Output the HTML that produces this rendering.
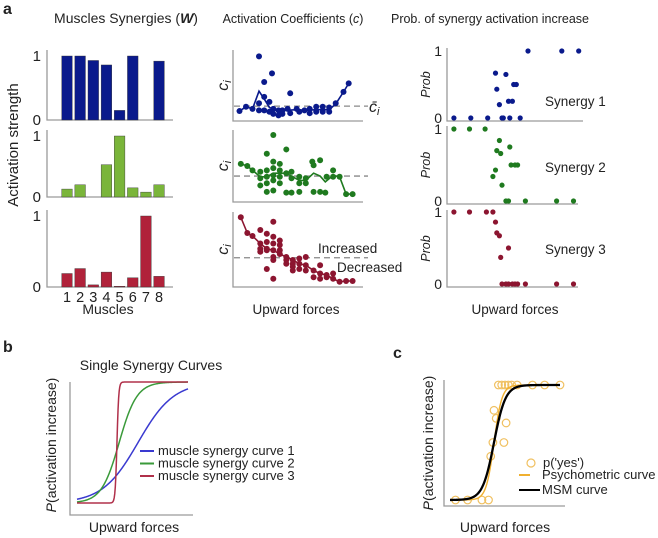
<!DOCTYPE html>
<html><head><meta charset="utf-8"><style>
body{margin:0;background:#fff}
svg{display:block;font-family:"Liberation Sans",Arial,sans-serif}
</style></head><body>
<svg id="fig" width="658" height="538" viewBox="0 0 658 538">
<g id="static" font-size="13" fill="#222">
<text x="3" y="14" font-weight="bold" font-size="16">a</text>
<text x="126" y="23" text-anchor="middle" font-size="14">Muscles Synergies (<tspan font-weight="bold" font-style="italic">W</tspan>)</text>
<text x="293" y="23" text-anchor="middle" font-size="12.5">Activation  Coefficients (<tspan font-style="italic">c</tspan>)</text>
<text x="490" y="23" text-anchor="middle" font-size="12.5">Prob. of synergy  activation increase</text>
<text transform="translate(18,145) rotate(-90)" text-anchor="middle" font-size="15">Activation strength</text>
<text x="108" y="314" text-anchor="middle" font-size="14">Muscles</text>
<text x="296" y="314" text-anchor="middle" font-size="13.5">Upward forces</text>
<text x="515" y="314" text-anchor="middle" font-size="13.5">Upward forces</text>
<text x="3" y="352" font-weight="bold" font-size="16">b</text>
<text x="151" y="370" text-anchor="middle" font-size="14">Single Synergy  Curves</text>
<text transform="translate(56,445) rotate(-90)" text-anchor="middle" font-size="14"><tspan font-style="italic">P</tspan>(activation increase)</text>
<text x="134" y="532" text-anchor="middle" font-size="14">Upward forces</text>
<text x="393" y="358" font-weight="bold" font-size="16">c</text>
<text transform="translate(433,443) rotate(-90)" text-anchor="middle" font-size="14"><tspan font-style="italic">P</tspan>(activation increase)</text>
<text x="505" y="532" text-anchor="middle" font-size="14">Upward forces</text>
</g>
</svg>
<script>
const NS="http://www.w3.org/2000/svg";
const svg=document.getElementById('fig');
// ---- data: bars ----
const muscles=[1,2,3,4,5,6,7,8];
const barsSyn1=[1.0,1.0,0.93,0.86,0.15,1.0,0,0.92];
const barsSyn2=[0.13,0.2,0,0.53,1.0,0.15,0.08,0.2];
const barsSyn3=[0.19,0.26,0.03,0.21,0.01,0.13,1.0,0.15];
// ---- data: coefficients (x force 0-100, y 0-100) ----
const c1X=[5,10,15,20,20,20,24,24,24,30,28,28,31,31,35,35,38,38,44,42,44,49,51,55,59,59,64,64,69,69,74,74,79,85,89];
const c1Y=[14,20,17,91,25,15,55,34,15,67,27,13,17,10,15,8,15,10,39,17,11,17,13,15,17,11,20,13,20,13,19,13,25,41,53];
const c1LineX=[5,10,15,20,24,28,35,41,49,56,64,74,79,85,89];
const c1LineY=[14,20,17,42,31,19,14,15,16,15,16,16,24,41,53];
const c1Mean=21;
const c2X=[6,11,15,21,21,21,26,26,26,26,26,31,31,31,31,31,31,36,36,36,36,41,41,41,45,45,45,51,51,51,56,56,61,62,67,67,62,71,72,77,77,82,87,92];
const c2Y=[53,50,44,42,33,23,67,44,35,26,14,93,56,47,37,30,16,53,44,35,26,73,40,13,42,33,13,35,26,14,33,26,56,51,58,14,14,13,35,44,35,35,11,11];
const c2LineX=[6,11,15,21,26,31,36,41,46,51,56,62,67,71,77,82,87,92];
const c2LineY=[53,50,44,35,35,40,40,40,35,30,30,40,36,28,37,35,11,11];
const c2Mean=36;
const c3LineX=[6,11,15,21,26,31,36,41,46,51,56,62,67,72,77,82,87,92];
const c3LineY=[93,72,68,58,51,49,44,40,36,31,29,22,18,16,11,7,8,8];
const c3X=[21,21,21,26,26,26,26,31,31,31,31,31,31,36,36,36,41,41,46,46,46,51,51,56,56,62,67,67,72,77];
const c3Y=[76,51,47,71,60,49,24,87,67,58,40,36,11,62,56,49,36,31,31,27,22,38,24,40,22,13,29,11,13,18];
const c3Mean=39;
// ---- data: probabilities ----
const p1X=[3,16,29,40,41,46,54,60,86,99,35,43,36,38,45,48,49,51];
const p1Y=[0,0,0,0,0,0,0,1,1,1,0.67,0.65,0.43,0.2,0.25,0.25,0.5,0.5];
const p2X=[3,15,27,38,36,39,46,35,33,40,47,50,52,43,45,58,82,95];
const p2Y=[1,1,1,0.84,0.7,0.66,0.75,0.43,0.34,0.22,0.5,0.5,0.5,0,0,0,0,0];
const p3X=[3,15,28,33,35,36,38,45,39,40,43,45,48,50,52,58,82,95];
const p3Y=[1,1,1,1,0.86,0.71,0.67,0.5,0.37,0,0,0,0,0,0,0,0,0];
// ---- data: panel b curves ----
const curveNames=['muscle synergy curve 1','muscle synergy curve 2','muscle synergy curve 3'];
const curveCenters=[55,38,36];
const curveScales=[16,8,0.8];
// ---- data: panel c ----
const yesX=[5,16,29,35,44,47,50,53,56,61,75,86,100,40,42,51,39,49,37];
const yesY=[0,0,0,0,1,1,1,1,1,1,1,1,1,0.78,0.71,0.67,0.5,0.5,0.38];
const psyCenter=40, psyScale=3.6;
const msmCenter=40, msmScale=5.2;

const BLUE='#0a1a8c',GREEN='#1f7a1f',RED='#8c1530',LGREEN='#7ab53a',BRED='#b0223a',AX='#9a9a9a';
function el(tag,attrs,parent){const e=document.createElementNS(NS,tag);for(const k in attrs)e.setAttribute(k,attrs[k]);(parent||svg).appendChild(e);return e;}
function txt(x,y,s,opt){const t=el('text',Object.assign({x:x,y:y,'font-size':12.5,fill:'#222'},opt||{}));t.textContent=s;return t;}
function logistic(x,c,s){return 1/(1+Math.exp(-(x-c)/s));}

// ---- bar charts ----
const barPanels=[{v:barsSyn1,base:120,top:56,fill:BLUE,name:'synergy-1'},{v:barsSyn2,base:197,top:136,fill:LGREEN,name:'synergy-2'},{v:barsSyn3,base:287,top:216,fill:BRED,name:'synergy-3'}];
const bx=m=>67+(m-1)*13.15;
barPanels.forEach(p=>{
  const by=v=>p.base-v*(p.base-p.top);
  const ax=el('path',{d:`M47,${p.top-6}V${p.base}H173`,stroke:AX,fill:'none','stroke-width':1.3});
  
  
  [[1,'1'],[0,'0']].forEach(t=>{const e=txt(41,by(t[0])+5,t[1],{'text-anchor':'end','font-size':15});
    
    });
  p.v.forEach((v,i)=>{const y=by(v);
    const r=el('rect',{x:bx(muscles[i])-5.3,y:y,width:10.6,height:Math.max(0,p.base-y),fill:p.fill,stroke:'#333','stroke-width':0.4});
    
    });
});
muscles.forEach(m=>{const t=txt(bx(m),302,String(m),{'text-anchor':'middle','font-size':14.5});
  
  });

// ---- coefficient panels ----
const coefPanels=[
 {x:c1X,y:c1Y,lx:c1LineX,ly:c1LineY,m:c1Mean,top:50,bot:121,col:BLUE,name:'coef-synergy-1'},
 {x:c2X,y:c2Y,lx:c2LineX,ly:c2LineY,m:c2Mean,top:130,bot:202,col:GREEN,name:'coef-synergy-2'},
 {x:c3X.concat(c3LineX),y:c3Y.concat(c3LineY),lx:c3LineX,ly:c3LineY,m:c3Mean,top:212,bot:287,col:RED,name:'coef-synergy-3'}];
coefPanels.forEach((p,k)=>{
  const sx=v=>233+v*1.3, sy=v=>p.bot-v*(p.bot-p.top)/100;
  const ax=el('path',{d:`M233,${p.top}V${p.bot}H363`,stroke:AX,fill:'none','stroke-width':1.3});
  
  
  const d=el('line',{x1:234,x2:368,y1:sy(p.m),y2:sy(p.m),stroke:'#888','stroke-width':1.3,'stroke-dasharray':'6,4'});
  
  
  const lab=txt(226,(p.top+p.bot)/2+2,'c',{'font-style':'italic','font-size':16,transform:`rotate(-90 226 ${(p.top+p.bot)/2})`,'text-anchor':'middle'});
  lab.innerHTML='c<tspan font-size="11" dy="3">i</tspan>';
  
  
  const ln=el('polyline',{points:p.lx.map((v,i)=>sx(v)+','+sy(p.ly[i])).join(' '),fill:'none',stroke:p.col,'stroke-width':1.6});
  
  
  p.x.forEach((v,i)=>{const c=el('circle',{cx:sx(v),cy:sy(p.y[i]),r:3,fill:p.col});
    
    });
});
(function(){const t=txt(369,112,'c',{'font-style':'italic','font-size':16});t.innerHTML='c̄<tspan font-size="11" dy="3">i</tspan>';
 
 
 const a=txt(318,253,'Increased',{'font-size':13.5});
 const b=txt(337,272,'Decreased',{'font-size':13.5});})();

// ---- probability panels ----
const probPanels=[{x:p1X,y:p1Y,y1:51,y0:118,top:48,bot:121,col:BLUE,lab:'Synergy 1',ly:106,name:'prob-synergy-1'},
 {x:p2X,y:p2Y,y1:129,y0:201,top:126,bot:204,col:GREEN,lab:'Synergy 2',ly:172,name:'prob-synergy-2'},
 {x:p3X,y:p3Y,y1:212,y0:284,top:210,bot:287,col:RED,lab:'Synergy 3',ly:254,name:'prob-synergy-3'}];
probPanels.forEach((p,k)=>{
  const sx=v=>450+v*1.3, sy=v=>p.y0-v*(p.y0-p.y1);
  const ax=el('path',{d:`M447,${p.top}V${p.bot}H${k==0?583:578}`,stroke:AX,fill:'none','stroke-width':1.3});
  
  
  [[1,'1'],[0,'0']].forEach(t=>{const e=txt(442,sy(t[0])+5,t[1],{'text-anchor':'end','font-size':14});
    
    });
  const pl=txt(430,(p.top+p.bot)/2,'Prob',{'font-style':'italic','font-size':12.5,'text-anchor':'middle',transform:`rotate(-90 430 ${(p.top+p.bot)/2})`});
  
  
  const sl=txt(545,p.ly,p.lab,{'font-size':13.5});
  
  
  p.x.forEach((v,i)=>{const c=el('circle',{cx:sx(v),cy:sy(p.y[i]),r:2.6,fill:p.col});
    
    });
});

// ---- panel b ----
(function(){
 const ax=el('path',{d:'M70,382V515H193',stroke:AX,fill:'none','stroke-width':1.3});
 
 
 const sx=v=>77+v*1.11, sy=v=>503-v*121;
 const cols=[ '#3a3ad0','#3a9a3a','#b0304a'];
 curveCenters.forEach((c,k)=>{let pts=[];for(let v=0;v<=100;v+=0.5)pts.push(sx(v)+','+sy(logistic(v,c,curveScales[k])));
  const l=el('polyline',{points:pts.join(' '),fill:'none',stroke:cols[k],'stroke-width':1.5});
  
  
  const ll=el('line',{x1:140,x2:154,y1:451+k*12.5,y2:451+k*12.5,stroke:cols[k],'stroke-width':2});
  
  
  const t=txt(158,455+k*12.5,curveNames[k],{'font-size':13});
  
  });
})();

// ---- panel c ----
(function(){
 const ax=el('path',{d:'M444,380V506H565',stroke:AX,fill:'none','stroke-width':1.3});
 
 
 const sx=v=>450+v*1.1, sy=v=>500-v*115;
 yesX.forEach((v,i)=>{const c=el('circle',{cx:sx(v),cy:sy(yesY[i]),r:3.8,fill:'none',stroke:'#f0c060','stroke-width':1.2});
  
  });
 let a=[],b=[];for(let v=0;v<=100;v+=0.5){a.push(sx(v)+','+sy(logistic(v,psyCenter,psyScale)));b.push(sx(v)+','+sy(logistic(v,msmCenter,msmScale)));}
 const p=el('polyline',{points:a.join(' '),fill:'none',stroke:'#f0b030','stroke-width':1.4});
 
 
 const m=el('polyline',{points:b.join(' '),fill:'none',stroke:'#000','stroke-width':2.3});
 
 
 const lc=el('circle',{cx:531,cy:463,r:4,fill:'none',stroke:'#f0c060','stroke-width':1.2});
 
 
 const l1=el('line',{x1:519,x2:530,y1:475,y2:475,stroke:'#f0b030','stroke-width':2});
 
 
 const l2=el('line',{x1:519,x2:540,y1:490,y2:490,stroke:'#000','stroke-width':2});
 
 
 const t1=txt(543,467,"p('yes')",{'font-size':13});
 const t2=txt(542,479,'Psychometric curve',{'font-size':13});
 const t3=txt(542,494,'MSM  curve',{'font-size':13});
})();
</script>
</body></html>
